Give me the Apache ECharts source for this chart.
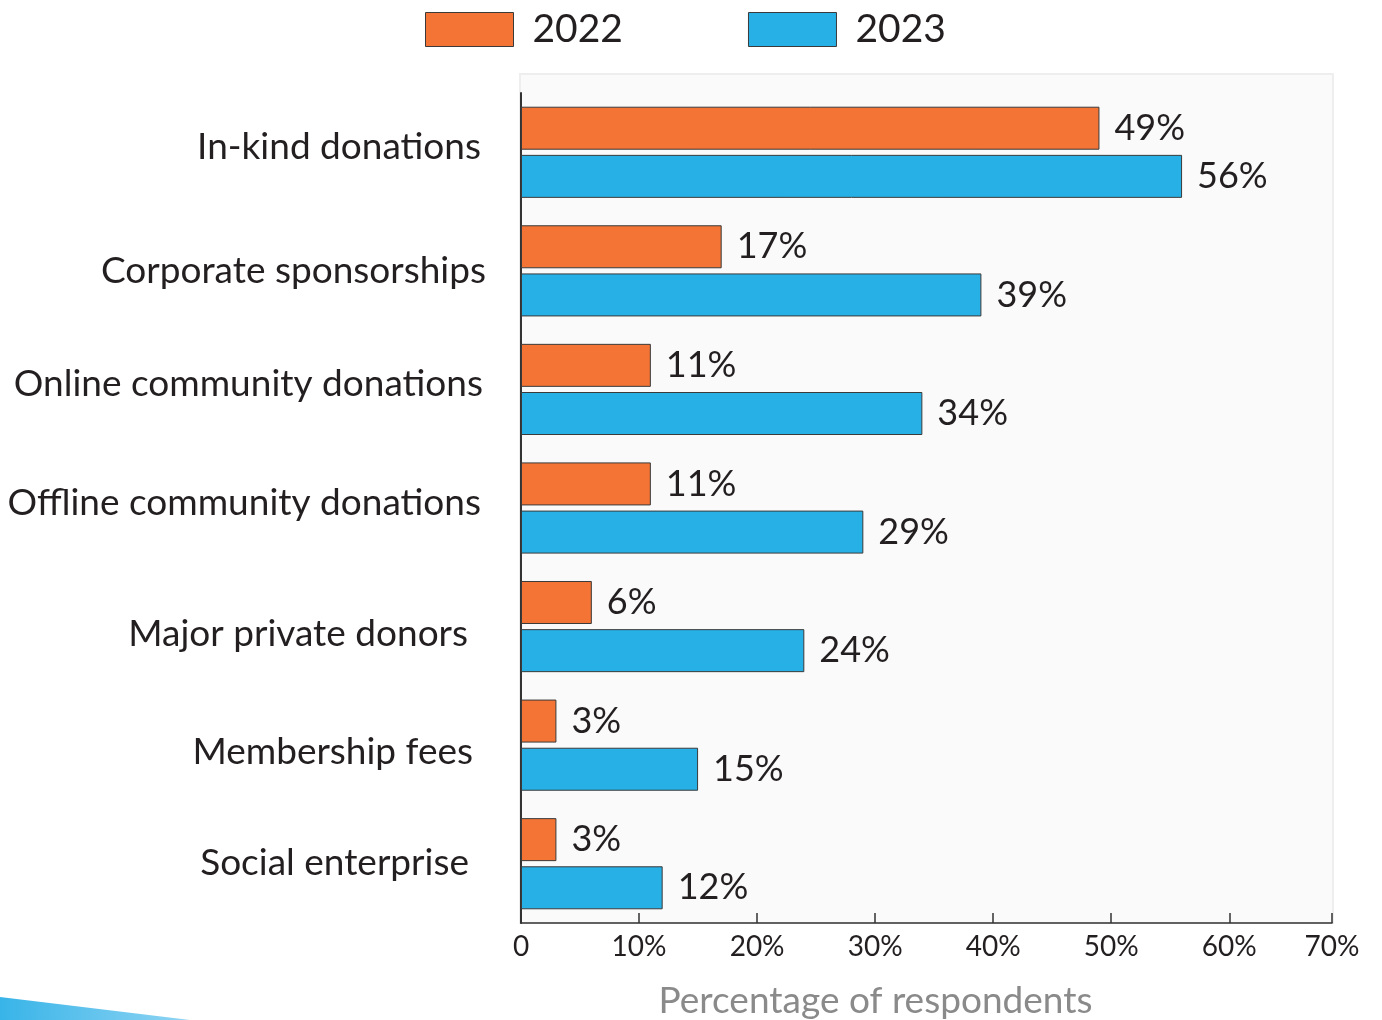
<!DOCTYPE html>
<html>
<head>
<meta charset="utf-8">
<title>Funding sources</title>
<script src="https://cdn.jsdelivr.net/npm/echarts@6/dist/echarts.min.js"></script>
<style>
  html, body { margin: 0; padding: 0; background: #ffffff; }
  #chart { width: 1382px; height: 1020px; }
</style>
</head>
<body>
<div id="chart"></div>
<script>
// Funding sources reported by respondents, 2022 vs 2023
const categories = [
  'In-kind donations',
  'Corporate sponsorships',
  'Online community donations',
  'Offline community donations',
  'Major private donors',
  'Membership fees',
  'Social enterprise'
];
const values2022 = [49, 17, 11, 11, 6, 3, 3];
const values2023 = [56, 39, 34, 29, 24, 15, 12];
const seriesNames = ['2022', '2023'];
const tickValues = [0, 10, 20, 30, 40, 50, 60];
const axisEnd = 68.7;            // the frame stops a little short of 70
const axisEndLabel = '70%';

// hand-set nudges for the category labels: [extra right gap, vertical shift]
const labelNudge = [[5, -5], [0, 0], [3, -5], [5, -5], [18, 7], [13, 7], [17, -1]];

const FONT = 'Lato, "Noto Sans", sans-serif';
const ORANGE = '#F37435';
const BLUE = '#27B0E6';
const TEXT = '#231f20';

const chart = echarts.init(document.getElementById('chart'), null, { renderer: 'canvas' });

const rich = {};
labelNudge.forEach(function (n, i) {
  const dy = n[1];
  rich['c' + i] = {
    fontFamily: FONT,
    fontSize: 37,
    color: TEXT,
    padding: [dy > 0 ? dy * 2 : 0, n[0], dy < 0 ? -dy * 2 : 0, 0]
  };
});

function barSeries(name, data, color) {
  return {
    name: name,
    type: 'bar',
    data: data,
    barWidth: 43,
    barGap: '12%',
    itemStyle: { color: color, borderColor: '#3a3a3a', borderWidth: 1 },
    label: {
      show: true,
      position: 'right',
      distance: 15,
      formatter: '{c}%',
      fontFamily: FONT,
      fontSize: 36,
      color: TEXT
    },
    z: 3
  };
}

chart.setOption({
  animation: false,
  textStyle: { fontFamily: FONT },
  legend: {
    data: seriesNames,
    top: 5,
    left: 420,
    itemWidth: 88,
    itemHeight: 34,
    itemGap: 125,
    icon: 'rect',
    itemStyle: { borderColor: '#3a3a3a', borderWidth: 1 },
    textStyle: { fontFamily: FONT, fontSize: 39, color: TEXT, padding: [0, 0, 0, 14] }
  },
  grid: { left: 521, right: 50, top: 93, bottom: 97, outerBoundsMode: 'none' },
  graphic: [
    {
      // light panel behind the plotting area
      type: 'rect',
      z: -10,
      shape: { x: 520, y: 74, width: 813, height: 849 },
      style: { fill: '#fafafa', stroke: '#eeeeee', lineWidth: 2 },
      silent: true
    },
    {
      // decorative swoosh in the lower-left corner
      type: 'polygon',
      z: -10,
      shape: { points: [[0, 997], [190, 1020], [0, 1020]] },
      style: {
        fill: new echarts.graphic.LinearGradient(0, 0, 1, 0, [
          { offset: 0, color: '#38b4e8' },
          { offset: 1, color: '#8fd4f3' }
        ])
      },
      silent: true
    }
  ],
  xAxis: {
    type: 'value',
    min: 0,
    max: axisEnd,
    splitLine: { show: false },
    axisLine: { show: true, lineStyle: { color: '#333333', width: 1.5 } },
    axisTick: {
      show: true,
      inside: true,
      length: 10,
      customValues: tickValues.concat([axisEnd]),
      lineStyle: { color: '#333333', width: 1.5 }
    },
    axisLabel: {
      customValues: tickValues.concat([axisEnd]),
      formatter: function (v) {
        if (v === axisEnd) return axisEndLabel;
        return v === 0 ? '0' : v + '%';
      },
      fontFamily: FONT,
      fontSize: 28,
      color: TEXT,
      margin: 10
    },
    name: 'Percentage of respondents',
    nameLocation: 'middle',
    nameGap: 60,
    nameTextStyle: {
      fontFamily: FONT,
      fontSize: 37,
      color: '#8a8a8a',
      padding: [0, 102, 0, 0]
    }
  },
  yAxis: {
    type: 'category',
    data: categories,
    inverse: true,
    axisLine: { show: true, lineStyle: { color: '#333333', width: 2 } },
    axisTick: { show: false },
    axisLabel: {
      margin: 35,
      formatter: function (value, index) {
        return '{c' + index + '|' + value + '}';
      },
      rich: rich
    }
  },
  series: [
    barSeries(seriesNames[0], values2022, ORANGE),
    barSeries(seriesNames[1], values2023, BLUE)
  ]
});
</script>
</body>
</html>
